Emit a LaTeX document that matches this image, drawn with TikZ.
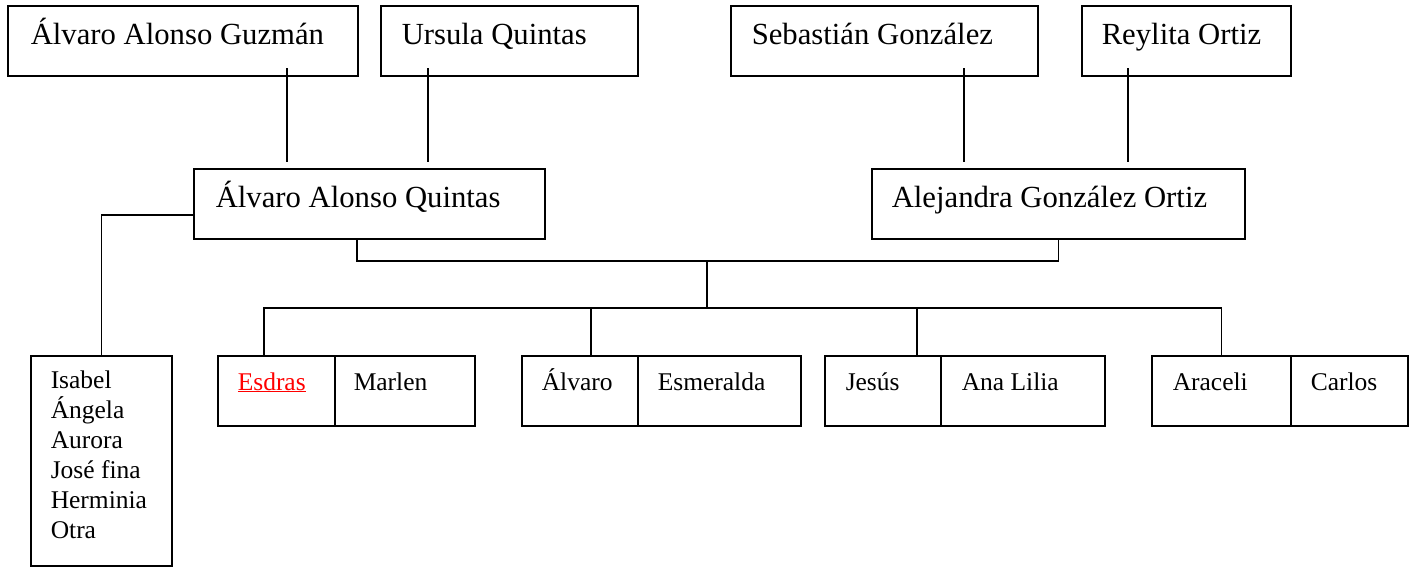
\documentclass[tikz,border=0pt]{standalone}
\usepackage{fontspec}
\setmainfont{Liberation Serif}
\usetikzlibrary{calc}
\begin{document}
\begin{tikzpicture}[x=1pt,y=-1pt,line width=1.5pt,
  box/.style={draw,rectangle,inner sep=0pt,anchor=north west},
  bigname/.style={anchor=base west,inner sep=0pt,font=\fontsize{30.7}{36}\selectfont},
  smallname/.style={anchor=base west,inner sep=0pt,font=\fontsize{25.5}{30}\selectfont},
  link/.style={draw,line width=1.4pt}]
\useasboundingbox (0,0) rectangle (1417,566);

% grandparents
\node[box,minimum width=350pt,minimum height=70pt] (ag) at (7,5) {};
\node[box,minimum width=257pt,minimum height=70pt] (uq) at (380,5) {};
\node[box,minimum width=307pt,minimum height=70pt] (sg) at (730,5) {};
\node[box,minimum width=209pt,minimum height=70pt] (ro) at (1081,5) {};
\node[bigname] (agt) at (30,44) {Álvaro Alonso Guzmán};
\node[bigname] (uqt) at (401,44) {Ursula Quintas};
\node[bigname] (sgt) at (751,44) {Sebastián González};
\node[bigname] (rot) at (1101,44) {Reylita Ortiz};

% parents
\node[box,minimum width=351pt,minimum height=70pt] (aq) at (193,168) {};
\node[box,minimum width=373pt,minimum height=70pt] (ago) at (871,168) {};
\node[bigname] (aqt) at (215,207) {Álvaro Alonso Quintas};
\node[bigname] (agot) at (891,207) {Alejandra González Ortiz};

% half-siblings list
\node[box,minimum width=141pt,minimum height=210pt] (list) at (30,355) {};
\foreach \n/\y [count=\i] in {Isabel/388,Ángela/418,Aurora/448,José fina/478,Herminia/508,Otra/538}
  \node[smallname] (kid\i) at (50,\y) {\n};

% children with partners
\node[box,minimum width=117pt,minimum height=70pt] (c1l) at (217,355) {};
\node[box,minimum width=140pt,minimum height=70pt] (c1r) at (334,355) {};
\node[box,minimum width=116pt,minimum height=70pt] (c2l) at (521,355) {};
\node[box,minimum width=163pt,minimum height=70pt] (c2r) at (637,355) {};
\node[box,minimum width=116pt,minimum height=70pt] (c3l) at (824,355) {};
\node[box,minimum width=164pt,minimum height=70pt] (c3r) at (940,355) {};
\node[box,minimum width=139pt,minimum height=70pt] (c4l) at (1151,355) {};
\node[box,minimum width=117pt,minimum height=70pt] (c4r) at (1290,355) {};
\node[smallname] (c1lt) at (237,390) {\textcolor{red}{\underline{Esdras}}};
\node[smallname] (c1rt) at (353,390) {Marlen};
\node[smallname] (c2lt) at (541,390) {Álvaro};
\node[smallname] (c2rt) at (657,390) {Esmeralda};
\node[smallname] (c3lt) at (845,390) {Jesús};
\node[smallname] (c3rt) at (961,390) {Ana Lilia};
\node[smallname] (c4lt) at (1172,390) {Araceli};
\node[smallname] (c4rt) at (1310,390) {Carlos};

% connectors between generations
\coordinate (agd) at (287,68);   \coordinate (aqu1) at (287,162);
\coordinate (uqd) at (428,68);   \coordinate (aqu2) at (428,162);
\coordinate (sgd) at (964,68);   \coordinate (agou1) at (964,162);
\coordinate (rod) at (1128,68);  \coordinate (agou2) at (1128,162);
\draw[link] (agd) -- (aqu1);
\draw[link] (uqd) -- (aqu2);
\draw[link] (sgd) -- (agou1);
\draw[link] (rod) -- (agou2);

\draw[link] ($(aq.north west)+(0,47)$) -| (list.north);

\coordinate (bar1) at (707,261);
\coordinate (bar2) at (707,308);
\draw[link] ($(aq.south west)+(164,0)$) |- (bar1) -| (ago.south);
\draw[link] (bar1) -- (bar2);
\draw[link] ($(c1l.north west)+(47,0)$) |- (bar2) -| (c4l.north);
\draw[link] ($(c2l.north west)+(70,0)$) -- ++(0,-47);
\draw[link] ($(c3l.north west)+(93,0)$) -- ++(0,-47);
\end{tikzpicture}
\end{document}
